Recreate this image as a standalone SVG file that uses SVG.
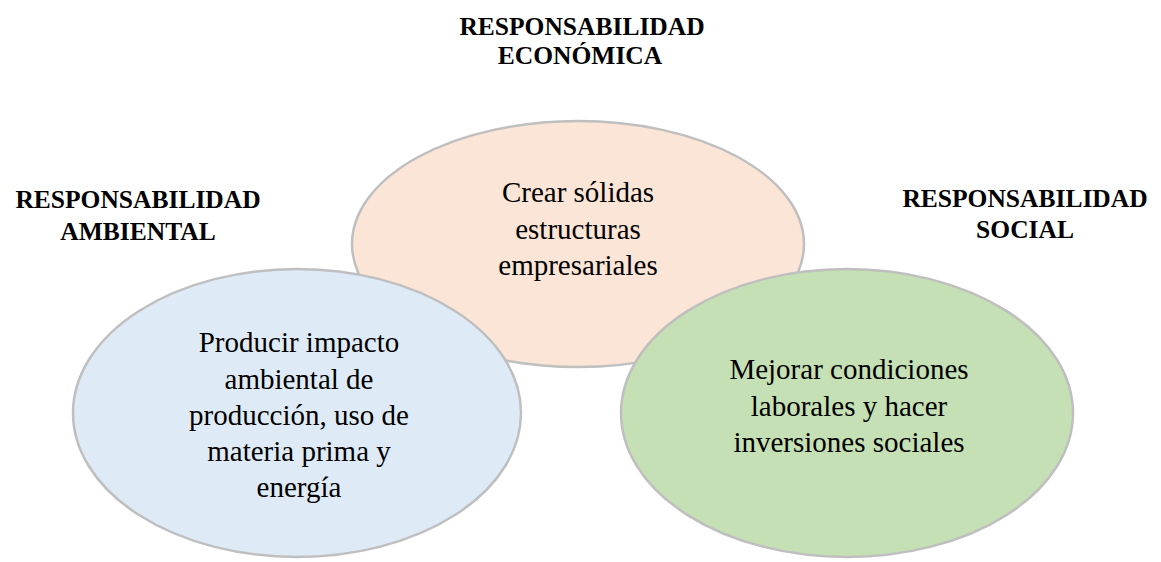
<svg xmlns="http://www.w3.org/2000/svg" width="1161" height="562" viewBox="0 0 1161 562">
<style>
.e{stroke:#BFBFBF;stroke-width:2.5}
.h{font-family:"Liberation Serif","Times New Roman",serif;font-weight:bold;font-size:25.5px;fill:#000;text-anchor:middle}
.t{font-family:"Liberation Serif","Times New Roman",serif;font-size:29px;fill:#000;text-anchor:middle}
</style>
<rect width="1161" height="562" fill="#fff"/>
<g id="economica">
<ellipse class="e" cx="578" cy="244" rx="226" ry="123" fill="#FBE5D6"/>
<text class="t" x="578" y="202">Crear sólidas</text>
<text class="t" x="578" y="238.5">estructuras</text>
<text class="t" x="578" y="275">empresariales</text>
</g>
<g id="ambiental">
<ellipse class="e" cx="297" cy="413" rx="224" ry="144" fill="#DEEBF7"/>
<text class="t" x="299" y="352">Producir impacto</text>
<text class="t" x="299" y="388.5">ambiental de</text>
<text class="t" x="299" y="425">producción, uso de</text>
<text class="t" x="299" y="461">materia prima y</text>
<text class="t" x="299" y="497">energía</text>
</g>
<g id="social">
<ellipse class="e" cx="847" cy="413" rx="226" ry="144" fill="#C5E0B4"/>
<text class="t" x="849" y="379">Mejorar condiciones</text>
<text class="t" x="849" y="415.5">laborales y hacer</text>
<text class="t" x="849" y="452">inversiones sociales</text>
</g>
<g id="labels">
<text class="h" x="582" y="35">RESPONSABILIDAD</text>
<text class="h" x="580" y="64">ECONÓMICA</text>
<text class="h" x="138" y="208">RESPONSABILIDAD</text>
<text class="h" x="138" y="240">AMBIENTAL</text>
<text class="h" x="1025" y="207">RESPONSABILIDAD</text>
<text class="h" x="1025" y="238">SOCIAL</text>
</g>
<g id="connectors"></g>
</svg>
